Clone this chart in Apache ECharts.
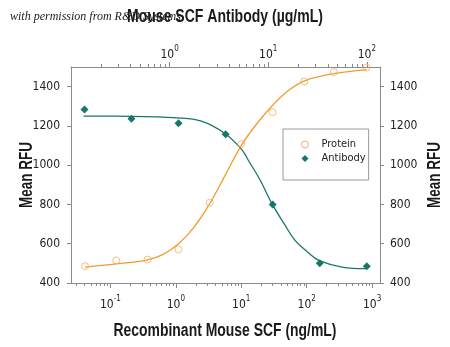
<!DOCTYPE html>
<html>
<head>
<meta charset="utf-8">
<script src="https://cdn.jsdelivr.net/npm/echarts@6/dist/echarts.min.js"></script>
<style>
html,body{margin:0;padding:0;background:#fff;}
#chart{width:450px;height:347px;}
</style>
</head>
<body>
<div id="chart"></div>
<script>
// ---- data ----
// Recombinant Mouse SCF (ng/mL), bottom axis
var proteinX = [0.041, 0.123, 0.37, 1.1, 3.3, 10, 30, 92, 260, 820];
var proteinY = [486, 515, 519, 571, 809, 1107, 1270, 1426, 1474, 1497];
// fitted curve for protein (traced)
var proteinFitX = [0.041, 0.124, 0.37, 0.64, 1.1, 1.9, 3.3, 5.75, 10, 17.3, 30, 55, 95, 258, 820];
var proteinFitY = [481, 497, 518, 546, 600, 685, 804, 952, 1100, 1211, 1304, 1385, 1431, 1466, 1487];
// Mouse SCF Antibody (µg/mL), top axis
var antibodyX = [0.137, 0.41, 1.23, 3.7, 11.1, 33.3, 100];
var antibodyY = [1284, 1237, 1214, 1157, 800, 500, 485];
// fitted curve for antibody (traced)
var antibodyFitX = [0.134, 0.4, 1.2, 2.1, 3.6, 5.3, 6.3, 8.3, 10.9, 14.5, 18.7, 25, 32.6, 56, 98];
var antibodyFitY = [1250, 1249, 1241, 1224, 1163, 1084, 1024, 923, 804, 702, 617, 558, 515, 481, 473];

var seriesNames = ['Protein', 'Antibody'];
var yTicks = [400, 600, 800, 1000, 1200, 1400];
var titleTop = 'Mouse SCF Antibody (µg/mL)';
var titleBottom = 'Recombinant Mouse SCF (ng/mL)';
var titleY = 'Mean RFU';
var watermark = 'with permission from R&D Systems';

var ORANGE = '#F29B2E';
var ORANGE_PT = '#F2AE66';
var TEAL = '#17776B';
var AXIS = '#8a8a8a';
var FONT = "'DejaVu Sans Condensed', 'Liberation Sans', sans-serif";
var NAME_FONT = 'bold 18px "Liberation Sans", Arial, sans-serif';

function textWidth(t, font) {
  var el = new echarts.graphic.Text({style: {text: t, font: font}});
  return el.getBoundingRect().width;
}
function scaleFor(t, font, w) { return w / textWidth(t, font); }

function minorTicks(lo, hi) {
  var out = [];
  for (var k = Math.floor(Math.log10(lo)); k <= Math.ceil(Math.log10(hi)); k++) {
    for (var m = 2; m <= 9; m++) {
      var v = m * Math.pow(10, k);
      if (v > lo && v < hi) out.push([v, 400]);
    }
  }
  return out;
}

var bottomRange = [0.025, 1320];
var topRange = [0.1, 136];

function powLabel(v) {
  var e = Math.round(Math.log10(v));
  return '{b|10}{e|' + e + '}';
}
var richPow = {
  b: {fontSize: 12, fontFamily: FONT, color: '#222', verticalAlign: 'bottom', lineHeight: 16},
  e: {fontSize: 8, fontFamily: FONT, color: '#222', verticalAlign: 'top', lineHeight: 16}
};

function tickRender(side, len) {
  return function (params, api) {
    var p = api.coord([api.value(0), api.value(1)]);
    var cs = params.coordSys;
    var y0 = side === 'top' ? cs.y : cs.y + cs.height;
    var y1 = side === 'top' ? y0 - len : y0 + len;
    return {type: 'line', shape: {x1: Math.round(p[0]) + 0.5, y1: y0, x2: Math.round(p[0]) + 0.5, y2: y1},
            style: {stroke: AXIS, lineWidth: 1}, silent: true};
  };
}

function nameText(t, x, y, w, rot) {
  return {
    type: 'text', x: x, y: y, rotation: rot || 0, scaleX: scaleFor(t, NAME_FONT, w), z: 10,
    style: {text: t, font: NAME_FONT, fill: '#1a1a1a', align: 'center', verticalAlign: 'middle'}
  };
}

var chart = echarts.init(document.getElementById('chart'), null, {renderer: 'canvas'});
chart.setOption({
  animation: false,
  backgroundColor: '#fff',
  graphic: [
    {type: 'text', x: 10, y: 17, z: 1,
     style: {text: watermark, font: 'italic 12px "Liberation Serif", "DejaVu Serif", serif', fill: '#222', verticalAlign: 'middle'}},
    nameText(titleTop, 225, 17, 196, 0),
    nameText(titleBottom, 225, 331, 223, 0),
    nameText(titleY, 27, 175, 66, Math.PI / 2),
    nameText(titleY, 435, 175, 66, Math.PI / 2)
  ],
  grid: {left: 71, right: 70, top: 67, bottom: 64, outerBoundsMode: 'none', containLabel: false},
  legend: {
    data: [{name: 'Protein', icon: 'circle', itemStyle: {color: '#fff', borderColor: ORANGE_PT, borderWidth: 1}},
           {name: 'Antibody', icon: 'diamond', itemStyle: {color: TEAL}}],
    orient: 'vertical', left: 283, top: 129,
    itemWidth: 7, itemHeight: 7, itemGap: 3,
    padding: [10, 3, 16, 18],
    borderColor: '#999', borderWidth: 1,
    textStyle: {fontFamily: FONT, fontSize: 11, color: '#222', padding: [0, 0, 0, 8]}
  },
  xAxis: [{
    type: 'log', logBase: 10, position: 'bottom', min: bottomRange[0], max: bottomRange[1],
    axisLine: {lineStyle: {color: AXIS}},
    axisTick: {inside: false, length: 5, lineStyle: {color: AXIS}},
    splitLine: {show: false},
    axisLabel: {formatter: powLabel, rich: richPow, margin: 12, showMinLabel: false, showMaxLabel: false}
  }, {
    type: 'log', logBase: 10, position: 'top', min: topRange[0], max: topRange[1],
    axisLine: {lineStyle: {color: AXIS}},
    axisTick: {inside: false, length: 5, lineStyle: {color: AXIS}},
    splitLine: {show: false},
    axisLabel: {formatter: powLabel, rich: richPow, margin: 6, showMinLabel: false, showMaxLabel: false}
  }],
  yAxis: [{
    type: 'value', position: 'left', min: 400, max: 1500, interval: 200,
    axisLine: {show: true, lineStyle: {color: AXIS}},
    axisTick: {show: true, length: 4, lineStyle: {color: AXIS}},
    splitLine: {show: false},
    axisLabel: {fontFamily: FONT, fontSize: 12, color: '#222', margin: 11, showMaxLabel: false,
      formatter: function (v) { return yTicks.indexOf(v) >= 0 ? String(v) : ''; }}
  }, {
    type: 'value', position: 'right', min: 400, max: 1500, interval: 200,
    axisLine: {show: true, lineStyle: {color: AXIS}},
    axisTick: {show: true, length: 4, lineStyle: {color: AXIS}},
    splitLine: {show: false},
    axisLabel: {fontFamily: FONT, fontSize: 12, color: '#222', margin: 10, showMaxLabel: false,
      formatter: function (v) { return yTicks.indexOf(v) >= 0 ? String(v) : ''; }}
  }],
  series: [
    {type: 'custom', xAxisIndex: 0, yAxisIndex: 0, silent: true, clip: false,
     renderItem: tickRender('bottom', 3), data: minorTicks(bottomRange[0], bottomRange[1]), z: 1},
    {type: 'custom', xAxisIndex: 1, yAxisIndex: 0, silent: true, clip: false,
     renderItem: tickRender('top', 3), data: minorTicks(topRange[0], topRange[1]), z: 1},
    {name: 'Protein', type: 'line', xAxisIndex: 0, yAxisIndex: 0, smooth: 0.4, showSymbol: false,
     lineStyle: {color: ORANGE, width: 1.3}, itemStyle: {color: ORANGE},
     data: proteinFitX.map(function (x, i) { return [x, proteinFitY[i]]; }), z: 2},
    {name: 'Antibody', type: 'line', xAxisIndex: 1, yAxisIndex: 0, smooth: 0.4, showSymbol: false,
     lineStyle: {color: TEAL, width: 1.3}, itemStyle: {color: TEAL},
     data: antibodyFitX.map(function (x, i) { return [x, antibodyFitY[i]]; }), z: 2},
    {name: 'Protein', type: 'scatter', xAxisIndex: 0, yAxisIndex: 0, symbol: 'circle', symbolSize: 7,
     itemStyle: {color: 'rgba(255,255,255,0)', borderColor: ORANGE_PT, borderWidth: 1}, clip: false,
     data: proteinX.map(function (x, i) { return [x, proteinY[i]]; }), z: 3},
    {name: 'Antibody', type: 'scatter', xAxisIndex: 1, yAxisIndex: 0, symbol: 'diamond', symbolSize: 8,
     itemStyle: {color: TEAL, opacity: 1}, clip: false,
     data: antibodyX.map(function (x, i) { return [x, antibodyY[i]]; }), z: 3}
  ]
});
</script>
</body>
</html>
